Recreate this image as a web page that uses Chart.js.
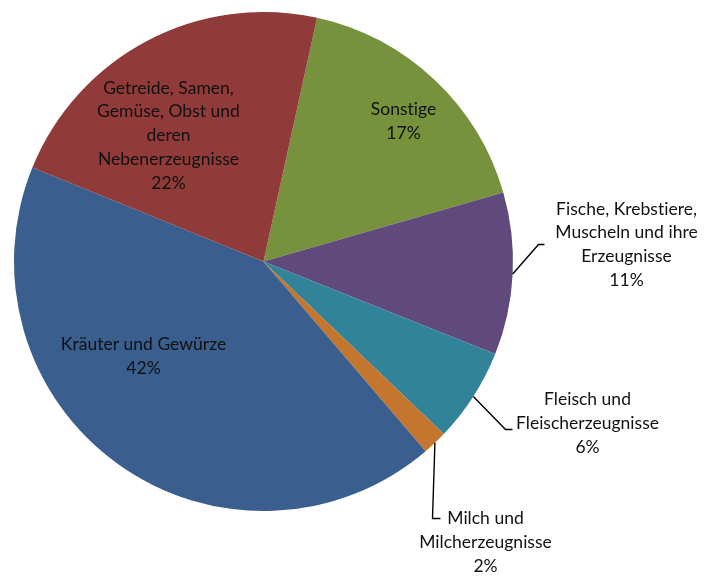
<!DOCTYPE html>
<html>
<head>
<meta charset="utf-8">
<script src="https://cdn.jsdelivr.net/npm/chart.js@4/dist/chart.umd.min.js"></script>
<style>
  html, body { margin: 0; padding: 0; background: #ffffff; }
  #wrap { width: 706px; height: 581px; }
</style>
</head>
<body>
<div id="wrap"><canvas id="c" width="706" height="581"></canvas></div>
<script>
// ---- data ----
const categories = [
  'Sonstige',
  'Fische, Krebstiere,\nMuscheln und ihre\nErzeugnisse',
  'Fleisch und\nFleischerzeugnisse',
  'Milch und\nMilcherzeugnisse',
  'Kräuter und Gewürze',
  'Getreide, Samen,\nGemüse, Obst und\nderen\nNebenerzeugnisse'
];
const values = [17.1, 10.5, 6.1, 1.6, 42.4, 22.3];
const colors = ['#76923C', '#5F4A7B', '#31839A', '#C4752E', '#3A5E8D', '#903B39'];

// ---- label layout (style only) ----
const labelLayout = [
  { type: 'in',  dx: 140, dy: -140 },
  { type: 'out', ex: 275, ey: -17, hx: 281, lx: 363, ly: -17 },
  { type: 'out', ex: 242, ey: 168, hx: 249, lx: 324, ly: 162 },
  { type: 'out', ex: 169, ey: 257, hx: 177, lx: 222, ly: 281 },
  { type: 'in',  dx: -120, dy: 95 },
  { type: 'in',  dx: -95, dy: -126 }
];
const FONT = '17.5px Lato, "Open Sans", sans-serif';
const LINE_H = 23.7;

const labelPlugin = {
  id: 'pieLabels',
  afterDatasetsDraw(chart) {
    const ctx = chart.ctx;
    const meta = chart.getDatasetMeta(0);
    const total = values.reduce((a, b) => a + b, 0);
    ctx.save();
    ctx.font = FONT;
    if ('letterSpacing' in ctx) ctx.letterSpacing = '0.01px';
    ctx.fillStyle = '#111111';
    ctx.textAlign = 'center';
    ctx.textBaseline = 'middle';
    meta.data.forEach((arc, i) => {
      const cx = arc.x, cy = arc.y, R = arc.outerRadius;
      const lines = categories[i].split('\n');
      lines.push(Math.round(values[i] / total * 100) + '%');
      const L = labelLayout[i];
      let lx, ly;
      if (L.type === 'in') {
        lx = cx + L.dx; ly = cy + L.dy;
      } else {
        const mid = (arc.startAngle + arc.endAngle) / 2;
        const sx = cx + Math.cos(mid) * R, sy = cy + Math.sin(mid) * R;
        ctx.beginPath();
        ctx.strokeStyle = '#000000';
        ctx.lineWidth = 1.4;
        ctx.moveTo(sx, sy);
        ctx.lineTo(cx + L.ex, cy + L.ey);
        ctx.lineTo(cx + L.hx, cy + L.ey);
        ctx.stroke();
        lx = cx + L.lx; ly = cy + L.ly;
      }
      const n = lines.length;
      lines.forEach((t, k) => {
        ctx.fillText(t, lx, ly + (k - (n - 1) / 2) * LINE_H);
      });
    });
    ctx.restore();
  }
};

new Chart(document.getElementById('c'), {
  type: 'pie',
  data: {
    labels: categories,
    datasets: [{
      data: values,
      backgroundColor: colors,
      borderWidth: 0
    }]
  },
  options: {
    responsive: false,
    devicePixelRatio: 1,
    animation: false,
    rotation: 12.4,
    layout: { padding: { left: 14, top: 12, right: 193, bottom: 70 } },
    plugins: { legend: { display: false }, tooltip: { enabled: false } }
  },
  plugins: [labelPlugin]
});
</script>
</body>
</html>
